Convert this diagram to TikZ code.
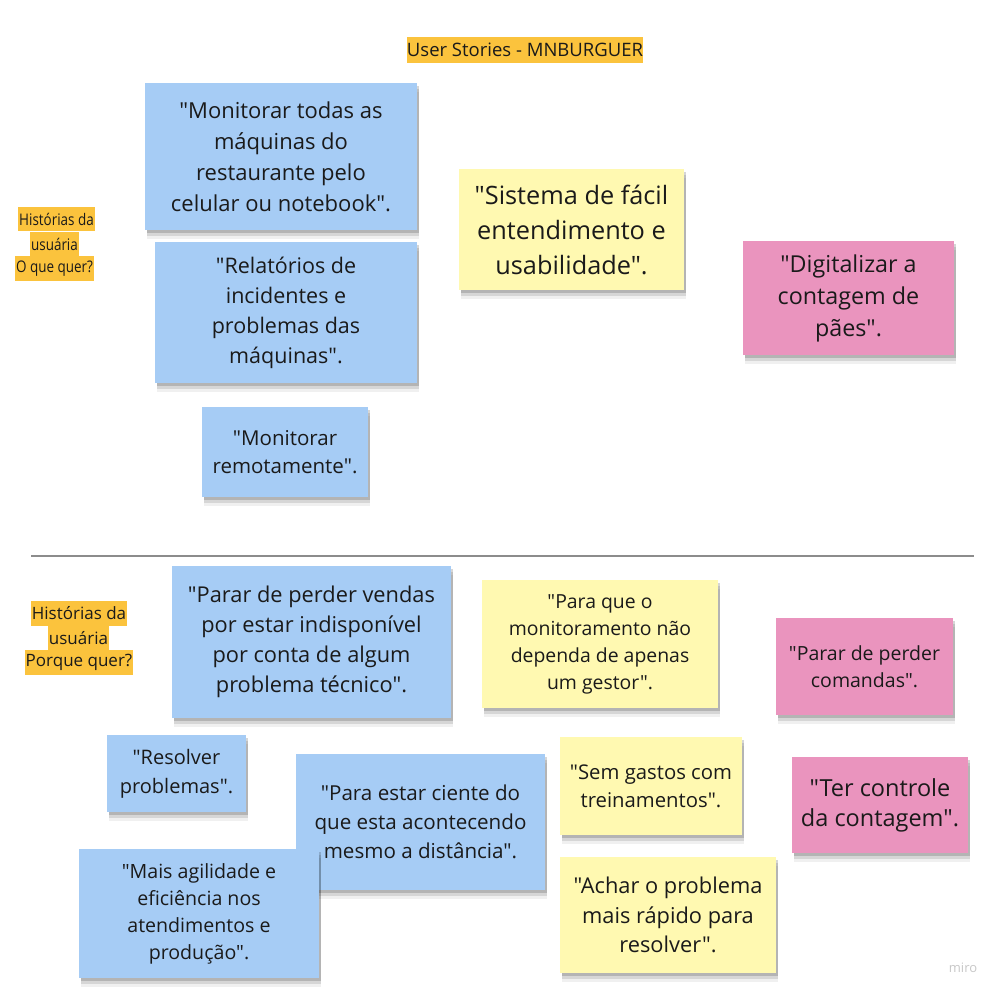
\documentclass[tikz,border=0pt]{standalone}
\usepackage{fontspec}
\setmainfont{Open Sans}[Ligatures=TeXOff]
\newfontfamily\narrowfont{Open Sans}[Ligatures=TeXOff, FakeStretch=0.84]
\usepackage{xcolor}
\usetikzlibrary{shadows}
\definecolor{colorBl}{RGB}{166,204,245}
\definecolor{colorYe}{RGB}{255,249,177}
\definecolor{colorPk}{RGB}{234,148,190}
\definecolor{colorOr}{RGB}{251,195,61}
\definecolor{colorInk}{RGB}{26,26,26}
\newcommand{\notefont}[2]{\fontsize{#1}{#2}\selectfont}
\tikzstyle{note}=[rectangle, align=center, inner sep=0pt, text=colorInk,
  general shadow={shadow xshift=2pt, shadow yshift=-3pt, opacity=.16, fill=black},
  general shadow={shadow xshift=2pt, shadow yshift=-6pt, opacity=.11, fill=black},
  general shadow={shadow xshift=2pt, shadow yshift=-9pt, opacity=.06, fill=black}]
\tikzstyle{tag}=[rectangle, fill=colorOr, inner xsep=1pt, inner ysep=0pt,
  minimum height=24.5pt, text=colorInk, font=\notefont{17}{20}]
\tikzstyle{tagn}=[tag, font=\narrowfont\notefont{16}{20}]

\begin{document}
\begin{tikzpicture}[x=1pt, y=-1pt]
\useasboundingbox (0,0) rectangle (1001,998);

\node[tag, minimum height=26pt, inner xsep=0pt, font=\notefont{18.5}{20}] (title) at (525,50) {User Stories - MNBURGUER};

%%% O que quer?
\node[tagn] (want_a) at (56.5,219) {Histórias da};
\node[tagn] (want_b) at (54.5,244) {usuária};
\node[tagn] (want_c) at (54.5,268.5) {O que quer?};

\node[note, fill=colorBl, minimum width=272pt, minimum height=147pt, font=\notefont{22}{31}] (want_monitor) at (281,156.5)
  {"Monitorar todas as\\máquinas do\\restaurante pelo\\celular ou notebook".};
\node[note, fill=colorBl, minimum width=262pt, minimum height=141pt, font=\notefont{21.5}{30}] (want_reports) at (286,312.5)
  {"Relatórios de\\incidentes e\\problemas das\\máquinas".};
\node[note, fill=colorBl, minimum width=166pt, minimum height=90pt, font=\notefont{20.5}{28}] (want_remote) at (285,452)
  {"Monitorar\\remotamente".};
\node[note, fill=colorYe, minimum width=225pt, minimum height=121pt, font=\notefont{25.3}{35}] (want_easy) at (571.5,229.5)
  {"Sistema de fácil\\entendimento e\\usabilidade".};
\node[note, fill=colorPk, minimum width=211pt, minimum height=114pt, font=\notefont{23.3}{32}] (want_count) at (848.5,298)
  {"Digitalizar a\\contagem de\\pães".};

%%% separador
\coordinate (sep_l) at (31,556);
\coordinate (sep_r) at (974,556);
\draw[black!45, line width=1.3pt] (sep_l) -- (sep_r);

%%% Porque quer?
\node[tag] (why_a) at (79,613.5) {Histórias da\ };
\node[tag] (why_b) at (78.5,638) {usuária};
\node[tag] (why_c) at (79,662.5) {Porque quer?};

\node[note, fill=colorBl, minimum width=279pt, minimum height=152pt, font=\notefont{21.8}{30}] (why_sales) at (311.5,642)
  {"Parar de perder vendas\\por estar indisponível\\por conta de algum\\problema técnico".};
\node[note, fill=colorYe, minimum width=236pt, minimum height=128pt, font=\notefont{19.4}{27}] (why_manager) at (600,644)
  {"Para que o\\monitoramento não\\dependa de apenas\\um gestor".};
\node[note, fill=colorPk, minimum width=177pt, minimum height=97pt, font=\notefont{19.5}{27}] (why_orders) at (864.5,666.5)
  {"Parar de perder\\comandas".};
\node[note, fill=colorBl, minimum width=139pt, minimum height=77pt, font=\notefont{20}{29}] (why_solve) at (176.5,773.5)
  {"Resolver\\problemas".};
\node[note, fill=colorBl, minimum width=249pt, minimum height=136pt, font=\notefont{20.6}{29}] (why_aware) at (420.5,822)
  {"Para estar ciente do\\que esta acontecendo\\mesmo a distância".};
\node[note, fill=colorYe, minimum width=182pt, minimum height=98pt, font=\notefont{20.3}{28}] (why_training) at (651,786)
  {"Sem gastos com\\treinamentos".};
\node[note, fill=colorPk, minimum width=176pt, minimum height=96pt, font=\notefont{23.5}{30}] (why_control) at (880,805)
  {"Ter controle\\da contagem".};
\node[note, fill=colorBl, minimum width=240pt, minimum height=129pt, font=\notefont{19.6}{27}] (why_agility) at (199,913.5)
  {"Mais agilidade e\\eficiência nos\\atendimentos e\\produção".};
\node[note, fill=colorYe, minimum width=216pt, minimum height=116pt, font=\notefont{21.8}{29.5}] (why_fast) at (668,915)
  {"Achar o problema\\mais rápido para\\resolver".};

\node[text=black!22, font=\notefont{13}{15}] (miro) at (963,968) {miro};

\end{tikzpicture}
\end{document}
